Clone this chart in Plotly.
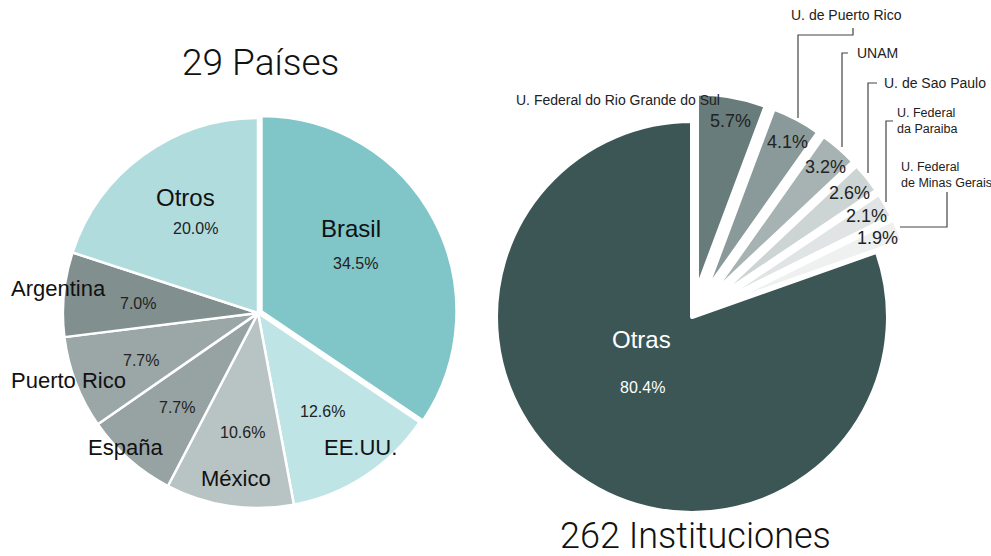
import plotly.graph_objects as go

W, H = 991, 556

# ---- data ----
paises = ["Brasil", "EE.UU.", "México", "España", "Puerto Rico", "Argentina", "Otros"]
paises_pct = [34.5, 12.6, 10.6, 7.7, 7.7, 7.0, 20.0]
paises_colors = ["#80c5c8", "#bee4e6", "#b8c3c3", "#96a3a2", "#9aa7a6", "#818f8e", "#b1dcde"]

inst = ["U. Federal do Rio Grande do Sul", "U. de Puerto Rico", "UNAM", "U. de Sao Paulo",
        "U. Federal<br>da Paraiba", "U. Federal<br>de Minas Gerais", "Otras"]
inst_pct = [5.7, 4.1, 3.2, 2.6, 2.1, 1.9, 80.4]
inst_colors = ["#687c7b", "#8a9a9a", "#a7b3b3", "#cdd4d4", "#e0e4e4", "#eff1f1", "#3c5555"]

title_left = "29 Países"
title_right = "262 Instituciones"


def px(x):
    return x / W


def py(y):
    return 1 - y / H


fig = go.Figure()

fig.add_trace(go.Pie(
    labels=paises, values=paises_pct, sort=False, direction="clockwise", rotation=0,
    marker=dict(colors=paises_colors, line=dict(color="white", width=2.5)),
    pull=[0.02, 0, 0, 0, 0, 0, 0],
    textinfo="none", hoverinfo="label+percent", showlegend=False,
    domain=dict(x=[px(59), px(457)], y=[py(512), py(114)]),
))

fig.add_trace(go.Pie(
    labels=inst, values=inst_pct, sort=False, direction="clockwise", rotation=0,
    marker=dict(colors=inst_colors, line=dict(color="white", width=4)),
    pull=[0.143, 0.143, 0.143, 0.143, 0.143, 0.143, 0],
    textinfo="none", hoverinfo="label+percent", showlegend=False,
    domain=dict(x=[px(468), px(916)], y=[py(541), py(93)]),
))

LABEL_FONT = "Liberation Sans, Arial, sans-serif"
LIGHT_FONT = "Roboto, Liberation Sans, sans-serif"

ann = []


def add_text(text, x, y, size, color="#111111", family=LABEL_FONT, xanchor="center", weight=None):
    f = dict(family=family, size=size, color=color)
    if weight:
        f["weight"] = weight
    ann.append(dict(text=text, x=px(x), y=py(y), xref="paper", yref="paper",
                    showarrow=False, xanchor=xanchor, yanchor="middle", font=f, align="left"))


# left pie names and percentages
name_pos = {"Brasil": (351, 228), "EE.UU.": (360, 447), "México": (236, 478),
            "España": (125, 447), "Puerto Rico": (68, 380), "Argentina": (58, 288),
            "Otros": (185, 197)}
name_size = {"Brasil": 24, "Otros": 24}
pct_pos = {"Brasil": (355, 264), "EE.UU.": (322, 411), "México": (242, 432),
           "España": (177, 407), "Puerto Rico": (141, 360), "Argentina": (138, 303),
           "Otros": (195, 228)}
for n, v in zip(paises, paises_pct):
    x, y = name_pos[n]
    add_text(n, x, y, name_size.get(n, 22))
    x, y = pct_pos[n]
    add_text(f"{v:.1f}%", x, y, 16, color="#222222")

# right pie percentages
rpct_pos = [(730, 121), (787, 142), (825, 167), (849, 193), (866, 216), (877, 238), (642, 387)]
for (x, y), v, n in zip(rpct_pos, inst_pct, inst):
    if n == "Otras":
        add_text(f"{v:.1f}%", x, y, 16, color="#ffffff")
    else:
        add_text(f"{v:.1f}%", x, y, 18, color="#222222")
add_text(inst[-1], 641, 339, 24, color="#ffffff")

# institution names
inst_pos = [(722, 100, "right"), (846, 15, "center"), (855, 53, "left"), (882, 83, "left"),
            (895, 121, "left"), (899, 175, "left")]
for (x, y, anc), n in zip(inst_pos, inst[:-1]):
    add_text(n, x, y, 14 if "<br>" not in n else 12.5, color="#222222", xanchor=anc)

# titles
add_text(title_left, 260, 63, 37, color="#111111", family=LIGHT_FONT, weight=300)
add_text(title_right, 695, 536, 36, color="#111111", family=LIGHT_FONT, weight=300)

# leader lines
lines = [
    [(853, 28), (853, 35), (798, 35), (798, 118)],
    [(848, 53), (842, 53), (842, 147)],
    [(877, 83), (868, 83), (868, 173)],
    [(893, 121), (886, 121), (886, 202)],
    [(947, 192), (947, 227), (900, 227)],
]
shapes = []
for pts in lines:
    path = "M " + " L ".join(f"{px(a):.5f},{py(b):.5f}" for a, b in pts)
    shapes.append(dict(type="path", path=path, xref="paper", yref="paper",
                       line=dict(color="#444444", width=1.2)))

fig.update_layout(
    width=W, height=H, margin=dict(l=0, r=0, t=0, b=0),
    paper_bgcolor="white", plot_bgcolor="white",
    annotations=ann, shapes=shapes,
)

fig.write_html("out.html", config={"displayModeBar": False},
               post_script="document.body.style.margin='0';document.body.style.overflow='hidden';")
